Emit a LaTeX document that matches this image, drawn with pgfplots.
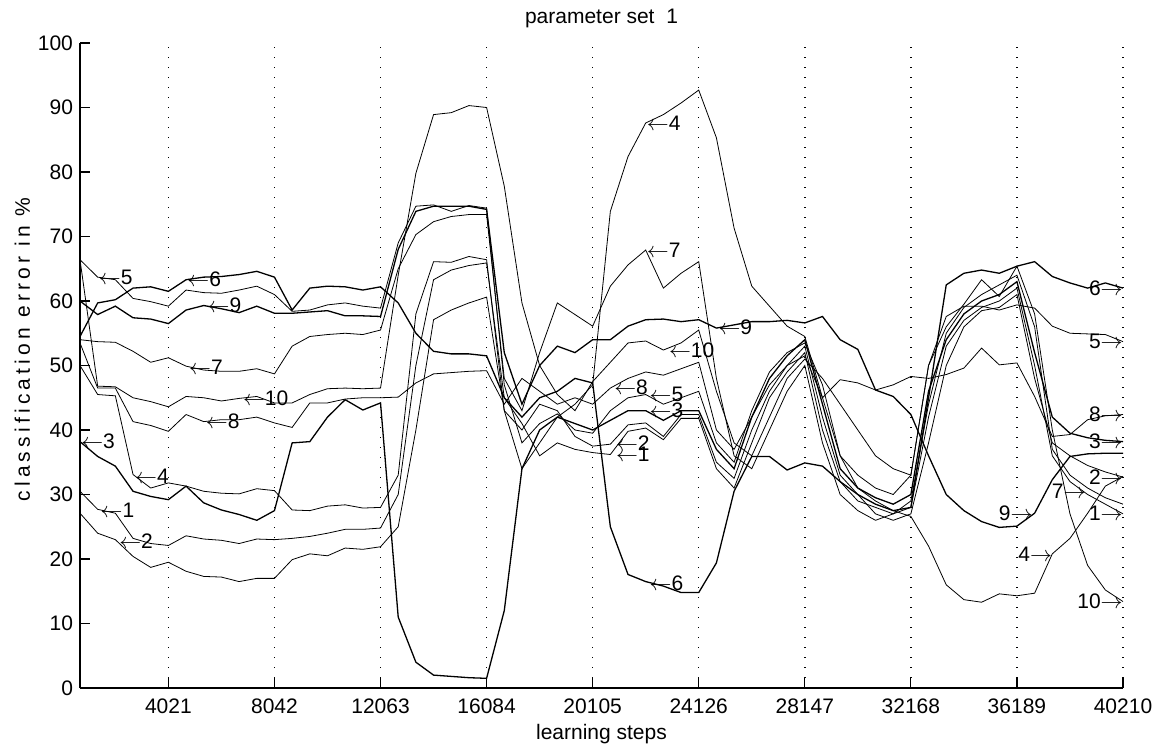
\documentclass[border=0pt]{standalone}
\usepackage{fontspec}
\setmainfont{Liberation Sans}
\usepackage{pgfplots}
\usepackage{pgfplotstable}
\pgfplotsset{compat=1.18}

% classification error (%) of ten runs, sampled every 670 learning steps (k = 1..60)
\pgfplotstableread{
k  l1   l2   l3   l4   l5   l6   l7   l8   l9   l10
1  30.5 27.1 38.2 50.0 66.4 54.5 54.0 53.5 60.0 66.4
2  27.7 24.0 35.9 45.5 63.7 59.7 53.7 46.5 57.9 46.8
3  27.1 23.0 34.4 45.3 63.3 60.2 53.6 46.5 59.2 46.7
4  23.2 20.4 30.5 33.1 60.4 62.0 52.2 41.3 57.4 45.0
5  22.4 18.7 29.7 31.0 59.9 62.2 50.5 40.7 57.2 44.4
6  22.1 19.5 29.2 31.8 59.2 61.5 51.2 39.8 56.5 43.6
7  23.6 18.1 31.3 31.3 61.7 63.3 49.9 42.4 58.6 45.2
8  23.1 17.3 28.7 30.5 61.3 63.7 49.3 41.3 59.3 45.0
9  22.9 17.2 27.6 30.2 61.2 63.8 49.1 41.6 58.8 44.5
10 22.4 16.5 26.9 30.1 61.7 64.1 49.1 41.6 58.2 44.9
11 23.1 17.0 26.0 30.9 62.3 64.6 49.5 42.0 59.2 45.2
12 23.0 17.0 27.5 30.6 61.0 63.7 48.7 41.1 58.1 44.2
13 23.2 19.9 38.0 27.6 58.4 58.6 53.0 40.4 58.1 44.2
14 23.5 20.8 38.2 27.5 58.6 62.0 54.5 44.2 58.3 45.5
15 24.0 20.5 42.0 28.2 59.4 62.3 54.8 44.2 58.5 46.4
16 24.6 21.7 44.7 28.4 59.7 62.2 55.0 44.8 57.7 46.5
17 24.6 21.5 43.1 27.9 59.2 61.7 54.8 45.0 57.7 46.4
18 24.8 21.9 44.2 28.0 58.9 62.2 55.5 45.0 57.6 46.5
19 30.0 25.0 11.0 33.0 69.0 59.7 65.0 45.1 68.0 64.0
20 50.0 40.0 4.0  58.0 74.7 55.0 70.3 47.3 73.9 79.8
21 63.3 57.1 2.0  66.1 74.9 52.2 72.3 48.7 74.7 88.9
22 64.8 58.6 1.8  66.0 73.9 51.8 73.1 48.9 74.7 89.2
23 65.5 59.7 1.6  66.9 74.8 51.8 73.4 49.1 74.7 90.3
24 65.9 60.6 1.5  66.4 74.4 51.5 73.4 49.2 74.2 90.0
25 45.0 43.0 12.0 43.0 47.0 45.0 48.0 44.0 52.0 77.8
26 41.0 40.0 34.0 34.0 38.0 42.0 43.0 48.0 44.0 59.7
27 36.0 44.0 40.0 38.0 41.0 45.0 52.0 46.0 50.0 50.0
28 38.0 43.0 42.0 42.0 42.5 46.0 59.7 44.0 53.0 45.5
29 37.0 39.0 41.0 44.0 40.0 48.0 57.9 45.0 52.0 43.0
30 36.5 37.5 40.0 47.0 39.5 47.3 56.1 44.0 54.0 47.5
31 36.2 37.8 41.5 73.9 43.0 25.0 62.3 46.5 54.0 50.5
32 39.8 40.8 43.0 82.4 45.0 17.6 65.6 48.0 56.1 53.5
33 40.3 41.1 43.0 87.6 45.5 16.5 67.9 49.0 57.1 53.8
34 38.5 39.0 41.5 88.9 44.0 15.8 62.0 48.5 57.2 52.4
35 41.8 42.4 43.0 90.7 45.0 14.8 64.3 49.5 56.8 53.5
36 41.8 42.4 43.0 92.7 46.0 14.8 66.1 50.5 57.1 55.5
37 34.0 35.0 37.0 85.3 38.0 19.4 48.0 40.0 55.8 46.0
38 31.0 32.5 34.0 71.3 35.0 30.5 36.0 37.0 56.3 38.0
39 38.0 40.0 42.0 62.3 43.0 35.9 34.0 42.0 56.8 36.0
40 45.0 46.0 48.0 59.2 49.0 35.9 40.0 47.0 56.8 42.0
41 49.0 50.0 51.5 56.1 52.0 33.8 46.0 50.0 57.0 48.0
42 52.0 53.0 54.0 54.5 53.5 34.9 50.0 51.5 56.6 51.0
43 40.0 42.0 44.0 45.0 47.0 34.4 38.0 45.0 57.6 48.0
44 32.0 33.0 34.0 36.0 36.0 32.0 30.0 47.8 54.0 44.0
45 29.0 30.0 31.0 31.0 33.0 30.0 27.5 47.3 52.5 40.0
46 28.0 27.0 29.5 29.0 31.0 28.5 26.0 46.2 46.2 36.0
47 27.0 26.0 28.5 27.5 30.0 27.5 27.0 47.0 45.2 34.0
48 28.0 27.0 30.0 26.6 33.0 28.0 29.0 48.3 42.4 33.0
49 42.0 38.0 46.0 22.0 50.0 45.0 44.0 48.0 36.0 50.0
50 53.0 50.0 54.0 16.0 57.6 62.5 55.0 48.6 30.0 56.0
51 57.0 56.0 58.0 13.7 59.2 64.3 59.0 49.6 27.5 59.5
52 59.0 58.5 60.0 13.3 59.2 64.8 61.0 52.7 25.8 63.3
53 60.0 59.0 61.0 14.6 58.6 64.3 62.5 50.1 24.9 60.7
54 62.0 61.0 63.0 14.3 59.4 65.4 64.0 50.4 25.1 65.4
55 50.0 48.0 52.0 14.7 58.9 66.1 56.0 45.2 27.1 58.0
56 36.0 38.0 42.0 20.8 56.1 63.8 37.0 39.0 32.3 40.0
57 32.0 36.0 39.5 23.2 55.0 62.8 33.0 39.3 35.9 27.0
58 30.0 34.5 38.8 27.1 54.9 62.0 31.0 41.6 36.3 19.0
59 28.5 33.5 38.4 31.3 54.8 62.8 29.5 42.2 36.4 15.2
60 27.0 32.7 38.2 32.8 53.7 62.0 28.5 42.4 36.4 13.4
}\errdata

\newcommand{\lab}{\fontsize{10.5}{12}\selectfont}
% run labels: arrow pointing left (tag to the right) or right (tag to the left)
\newcommand{\runL}[3]{\node[anchor=west,inner sep=0pt,font=\lab] at (axis cs:#1,#2) {$\leftarrow$#3};}
\newcommand{\runR}[3]{\node[anchor=east,inner sep=0pt,font=\lab] at (axis cs:#1,#2) {#3$\rightarrow$};}

\begin{document}
\begin{tikzpicture}
\path[use as bounding box] (-40pt,-29pt) rectangle (540pt,344pt);
\begin{axis}[
  at={(0,0)}, anchor=south west,
  scale only axis, width=521.5pt, height=322.5pt,
  xmin=1, xmax=60, ymin=0, ymax=100,
  axis lines=left, axis line style={-, line width=0.6pt},
  tick align=inside, major tick length=5pt,
  tick style={line width=0.6pt, black},
  xtick={6,12,...,60},
  xticklabels={4021,8042,12063,16084,20105,24126,28147,32168,36189,40210},
  ytick={0,10,...,100},
  xmajorgrids,
  grid style={black, line width=0.7pt, dash pattern=on 0.7pt off 4.3pt},
  ticklabel style={font=\lab},
  /pgf/number format/assume math mode=true,
  xticklabel style={yshift=-2pt},
  title={parameter set\ \ 1},
  % the default title style already shifts up by 6pt; shifts add up
  title style={font=\lab, at={(axis description cs:0.5,1.0295)}, anchor=base, yshift=-6pt},
  xlabel={learning steps},
  xlabel style={font=\lab, at={(axis description cs:0.5,-0.072)}, anchor=center},
  ylabel={classification error in \%},
  ylabel style={font={\lab\addfontfeatures{LetterSpace=20}}, at={(axis description cs:-0.0552,0.525)}, anchor=center},
  clip mode=individual,
  cycle list={{black, solid, line width=0.65pt}},
  no marks,
]
\addplot table[x=k, y=l1]  {\errdata};
\addplot table[x=k, y=l2]  {\errdata};
\addplot table[x=k, y=l3]  {\errdata};
\addplot table[x=k, y=l4]  {\errdata};
\addplot table[x=k, y=l5]  {\errdata};
\addplot table[x=k, y=l6]  {\errdata};
\addplot table[x=k, y=l7]  {\errdata};
\addplot table[x=k, y=l8]  {\errdata};
\addplot table[x=k, y=l9]  {\errdata};
\addplot table[x=k, y=l10] {\errdata};

% tags near the start
\runL{2.05}{63.6}{5}
\runL{7.05}{63.3}{6}
\runL{8.2}{59.3}{9}
\runL{7.15}{49.7}{7}
\runL{10.2}{44.9}{10}
\runL{8.1}{41.3}{8}
\runL{1.05}{38.2}{3}
\runL{4.1}{32.9}{4}
\runL{2.15}{27.6}{1}
\runL{3.2}{22.8}{2}
% tags in the middle
\runL{33.05}{87.6}{4}
\runL{33.05}{67.9}{7}
\runL{34.3}{52.4}{10}
\runL{37.1}{55.9}{9}
\runL{31.2}{46.7}{8}
\runL{33.2}{45.5}{5}
\runL{33.2}{43.0}{3}
\runL{31.3}{37.9}{2}
\runL{31.3}{36.3}{1}
\runL{33.2}{16.3}{6}
% tags near the end
\runR{60}{62.0}{6}
\runR{60}{53.7}{5}
\runR{60}{42.4}{8}
\runR{60}{38.2}{3}
\runR{60}{32.7}{2}
\runR{60}{27.1}{1}
\runR{60}{13.4}{10}
\runR{57.9}{30.5}{7}
\runR{54.9}{27.1}{9}
\runR{56.0}{20.8}{4}
\end{axis}
\end{tikzpicture}
\end{document}
